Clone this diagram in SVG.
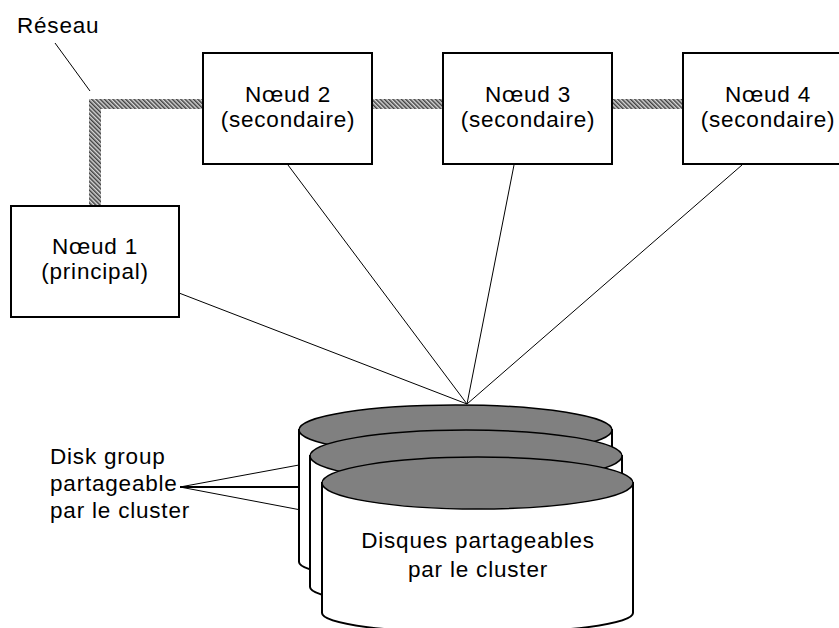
<svg xmlns="http://www.w3.org/2000/svg" width="839" height="628" viewBox="0 0 839 628">
<style>
text{font-family:"Liberation Sans",Arial,Helvetica,sans-serif;font-size:22.5px;fill:#000;letter-spacing:0.8px}
.c{text-anchor:middle}
.box{fill:#fff;stroke:#000;stroke-width:2}
.ln{stroke:#000;stroke-width:1;fill:none}
.top{fill:#808080;stroke:#000;stroke-width:1.5}
.side{fill:#fff;stroke:#000;stroke-width:2}
</style>
<defs>
<pattern id="hatch" width="3" height="3" patternUnits="userSpaceOnUse" patternTransform="rotate(-45)">
<rect width="3" height="3" fill="#d8d8d8"/>
<rect width="1.5" height="3" fill="#404040"/>
</pattern>
</defs>
<g id="network">
<rect x="89" y="99" width="594" height="10" fill="url(#hatch)"/>
<rect x="89" y="99" width="12" height="107" fill="url(#hatch)"/>
<text x="17" y="33">Réseau</text>
<line class="ln" x1="55" y1="43" x2="90" y2="91"/>
</g>
<g id="connectors">
<line class="ln" x1="179" y1="293" x2="467" y2="404"/>
<line class="ln" x1="288" y1="165" x2="467" y2="404"/>
<line class="ln" x1="514" y1="165" x2="467" y2="404"/>
<line class="ln" x1="742" y1="165" x2="467" y2="404"/>
<line class="ln" x1="180" y1="487" x2="299" y2="465"/>
<line x1="180" y1="487" x2="310" y2="487" stroke="#000" stroke-width="1.8"/>
<line class="ln" x1="180" y1="487" x2="322" y2="514"/>
</g>
<g id="node1">
<rect class="box" x="11" y="206" width="168" height="111"/>
<text class="c" x="95" y="254">Nœud 1</text>
<text class="c" x="95" y="279">(principal)</text>
</g>
<g id="node2">
<rect class="box" x="203" y="53" width="169" height="111"/>
<text class="c" x="288" y="102">Nœud 2</text>
<text class="c" x="288" y="127">(secondaire)</text>
</g>
<g id="node3">
<rect class="box" x="443" y="53" width="169" height="111"/>
<text class="c" x="528" y="102">Nœud 3</text>
<text class="c" x="528" y="127">(secondaire)</text>
</g>
<g id="node4">
<rect class="box" x="683" y="53" width="169" height="111"/>
<text class="c" x="768" y="102">Nœud 4</text>
<text class="c" x="768" y="127">(secondaire)</text>
</g>
<g id="disk-back">
<path class="side" d="M299,430 L299,562 A156.5,20 0 0 0 612,562 L612,430 Z"/>
<ellipse class="top" cx="455.5" cy="430" rx="156.5" ry="25"/>
</g>
<g id="disk-middle">
<path class="side" d="M310,456 L310,587 A156,20 0 0 0 622,587 L622,456 Z"/>
<ellipse class="top" cx="466" cy="456" rx="156" ry="26"/>
</g>
<g id="disk-front">
<path class="side" d="M322,483 L322,613 A155.5,20 0 0 0 633,613 L633,483 Z"/>
<ellipse class="top" cx="477.5" cy="483" rx="155.5" ry="26"/>
<text class="c" x="478" y="548">Disques partageables</text>
<text class="c" x="478" y="577">par le cluster</text>
</g>
<g id="disk-label">
<text x="50" y="464">Disk group</text>
<text x="50" y="491">partageable</text>
<text x="50" y="518">par le cluster</text>
</g>
</svg>
